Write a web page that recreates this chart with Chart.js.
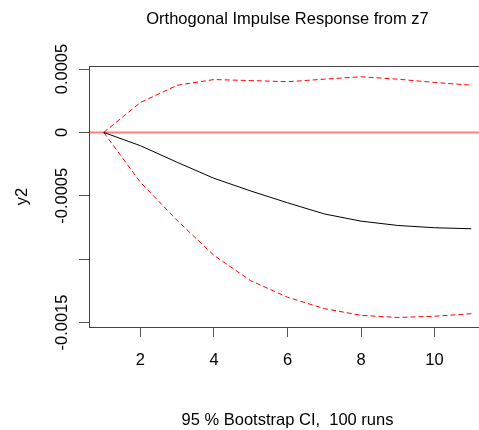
<!DOCTYPE html>
<html>
<head>
<meta charset="utf-8">
<script src="https://cdn.jsdelivr.net/npm/chart.js@4"></script>
<style>
  html, body { margin: 0; padding: 0; background: #fff; overflow: hidden; }
  #wrap { width: 500px; height: 430px; }
</style>
</head>
<body>
<div id="wrap"><canvas id="irf" width="500" height="430"></canvas></div>
<script>
// impulse response of y2 to a shock in z7, with bootstrap band
var steps = [1, 2, 3, 4, 5, 6, 7, 8, 9, 10, 11];
var irf = [0, -0.000105, -0.000236, -0.000362, -0.000462, -0.000555, -0.000643, -0.0007, -0.000734, -0.000752, -0.00076];
var upper = [0, 0.000236, 0.000372, 0.000417, 0.000409, 0.0004, 0.00042, 0.000439, 0.00042, 0.000394, 0.000373];
var lower = [0, -0.000394, -0.000695, -0.00097, -0.00117, -0.0013, -0.00139, -0.001443, -0.00146, -0.00145, -0.00143];
var xTicks = [2, 4, 6, 8, 10];
var yTicks = [0.0005, 0, -0.0005, -0.001, -0.0015];
var yTickLabels = ["0.0005", "0", "-0.0005", "", "-0.0015"];

var FONT = '16.5px "Liberation Sans", Arial, sans-serif';

function pts(vals) {
  return steps.map(function (s, i) { return { x: s, y: vals[i] }; });
}

// title, axis titles, rotated y labels, top border and zero line
var rPlot = {
  id: 'rPlot',
  beforeDatasetsDraw: function (chart) {
    var c = chart.ctx, a = chart.chartArea, y = chart.scales.y;
    var y0 = y.getPixelForValue(0);
    c.save();
    c.strokeStyle = 'rgba(255,0,0,0.5)';
    c.lineWidth = 2;
    c.beginPath();
    c.moveTo(a.left, y0);
    c.lineTo(a.right, y0);
    c.stroke();
    c.restore();
  },
  afterDraw: function (chart) {
    var c = chart.ctx, a = chart.chartArea, y = chart.scales.y;
    var mid = (a.left + a.right) / 2;
    c.save();
    c.strokeStyle = '#444';
    c.lineWidth = 1;
    c.beginPath();
    c.moveTo(a.left, a.top + 0.5);
    c.lineTo(a.right, a.top + 0.5);
    c.stroke();

    c.fillStyle = '#000';
    c.font = FONT;
    c.textAlign = 'center';
    c.textBaseline = 'alphabetic';
    c.fillText('Orthogonal Impulse Response from z7', mid, 24);
    c.fillText('95 % Bootstrap CI,  100 runs', mid, 425);

    yTicks.forEach(function (v, i) {
      c.save();
      c.translate(66.5, y.getPixelForValue(v));
      c.rotate(-Math.PI / 2);
      c.fillText(yTickLabels[i], 0, 0);
      c.restore();
    });

    c.save();
    c.translate(27, (a.top + a.bottom) / 2);
    c.rotate(-Math.PI / 2);
    c.fillText('y2', 0, 0);
    c.restore();
    c.restore();
  }
};

new Chart(document.getElementById('irf'), {
  type: 'line',
  data: {
    datasets: [
      {
        label: 'irf',
        data: pts(irf),
        borderColor: '#000',
        borderWidth: 1,
        pointRadius: 0,
        tension: 0
      },
      {
        label: 'upper',
        data: pts(upper),
        borderColor: '#ff0000',
        borderWidth: 1,
        borderDash: [5, 3],
        pointRadius: 0,
        tension: 0
      },
      {
        label: 'lower',
        data: pts(lower),
        borderColor: '#ff0000',
        borderWidth: 1,
        borderDash: [5, 3],
        pointRadius: 0,
        tension: 0
      }
    ]
  },
  options: {
    responsive: false,
    animation: false,
    layout: { padding: { top: 66, right: 14, left: 0, bottom: 0 } },
    plugins: {
      legend: { display: false },
      tooltip: { enabled: false },
      title: { display: false }
    },
    scales: {
      x: {
        type: 'linear',
        min: 0.6,
        max: 11.4,
        afterBuildTicks: function (s) { s.ticks = xTicks.map(function (v) { return { value: v }; }); },
        afterFit: function (s) { s.height = 103; },
        grid: { drawOnChartArea: false, tickLength: 10, color: '#555' },
        border: { color: '#444' },
        ticks: { color: '#000', font: { size: 16.5, family: '"Liberation Sans", Arial, sans-serif' }, padding: 14, maxRotation: 0 }
      },
      y: {
        type: 'linear',
        min: -0.001535,
        max: 0.000524,
        afterBuildTicks: function (s) { s.ticks = yTicks.map(function (v) { return { value: v }; }); },
        afterFit: function (s) { s.width = 89; },
        grid: { drawOnChartArea: false, tickLength: 10, color: '#555' },
        border: { color: '#444' },
        ticks: { display: false }
      }
    }
  },
  plugins: [rPlot]
});
</script>
</body>
</html>
